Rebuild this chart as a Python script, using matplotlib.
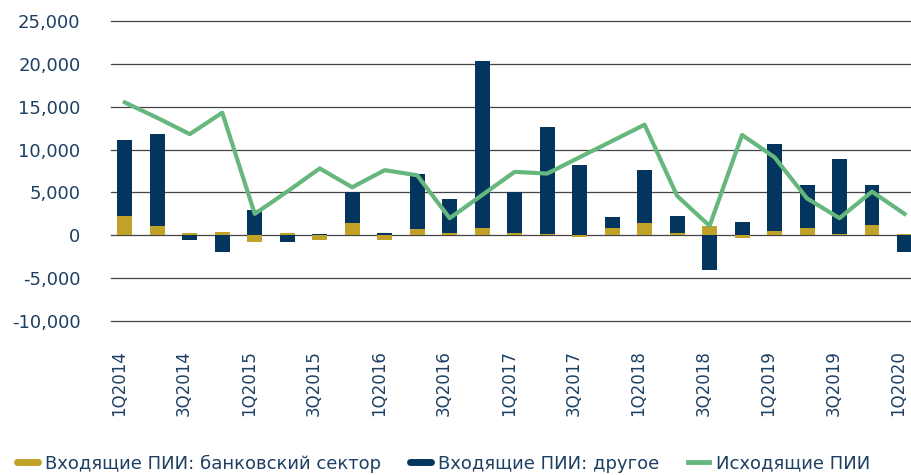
import matplotlib
matplotlib.use('Agg')
import matplotlib.pyplot as plt
import matplotlib.transforms as mtransforms
from matplotlib.lines import Line2D
from matplotlib.ticker import FuncFormatter
import numpy as np

plt.rcParams['font.family'] = ['DejaVu Sans']

# кварталы 1Q2014 - 1Q2020
quarters = ['1Q2014', '2Q2014', '3Q2014', '4Q2014',
            '1Q2015', '2Q2015', '3Q2015', '4Q2015',
            '1Q2016', '2Q2016', '3Q2016', '4Q2016',
            '1Q2017', '2Q2017', '3Q2017', '4Q2017',
            '1Q2018', '2Q2018', '3Q2018', '4Q2018',
            '1Q2019', '2Q2019', '3Q2019', '4Q2019',
            '1Q2020']
# Входящие ПИИ: банковский сектор
bank = [2200, 1100, 300, 400, -800, 300, -500, 1400, -500, 700,
        300, 900, 300, 200, -250, 800, 1400, 300, 1100, -300,
        450, 800, 200, 1250, 200]
# Входящие ПИИ: другое
other = [8900, 10700, -500, -1900, 2900, -800, 200, 3700, 300, 6500,
         3900, 19400, 4800, 12400, 8200, 1300, 6200, 1900, -4100, 1500,
         10250, 5100, 8700, 4650, -1900]
# Исходящие ПИИ
outward = [15500, 13700, 11800, 14300, 2500, 5100, 7800, 5600, 7600, 7000,
           2000, 4700, 7400, 7200, 9100, 11000, 12900, 4600, 1100, 11700,
           9100, 4300, 2000, 5100, 2500]

gold = '#c0a229'
navy = '#03355e'
green = '#66b77d'
text_color = '#1d3f63'

x = np.arange(len(quarters))
bank = np.array(bank)
other = np.array(other)
# синие столбцы ставим на золотые, только если знак совпадает
other_bottom = np.where(np.sign(bank) == np.sign(other), bank, 0)

fig = plt.figure(figsize=(9.11, 4.75), dpi=100)
ax = fig.add_axes([0.122, 0.324, 0.878, 0.632])

ax.bar(x, bank, width=0.46, color=gold, zorder=2)
ax.bar(x, other, width=0.46, bottom=other_bottom, color=navy, zorder=2)
ax.plot(x, outward, color=green, linewidth=3, zorder=3)

ax.set_ylim(-10000, 25000)
ax.set_xlim(-0.42, 24.2)
ax.set_yticks(range(-10000, 25001, 5000))
ax.yaxis.set_major_formatter(FuncFormatter(lambda v, p: f'{v:,.0f}'))
ax.set_xticks(x[::2])
ax.set_xticklabels(quarters[::2], rotation=90)
ax.grid(axis='y', color='#444444', linewidth=0.9, zorder=0)
ax.set_axisbelow(True)
for gl in ax.get_ygridlines():
    gl.set_clip_on(False)
for s in ax.spines.values():
    s.set_visible(False)
ax.tick_params(axis='y', length=0, pad=22, labelsize=13, labelcolor=text_color)
ax.tick_params(axis='x', length=0, pad=21, labelsize=12, labelcolor=text_color)

# подписи по оси X чуть левее столбцов
shift = mtransforms.ScaledTranslation(-6 / 100, 0, fig.dpi_scale_trans)
for lbl in ax.get_xticklabels():
    lbl.set_transform(lbl.get_transform() + shift)

handles = [
    Line2D([0], [0], color=gold, linewidth=5, solid_capstyle='round'),
    Line2D([0], [0], color=navy, linewidth=5, solid_capstyle='round'),
    Line2D([0], [0], color=green, linewidth=3.5),
]
labels = ['Входящие ПИИ: банковский сектор', 'Входящие ПИИ: другое', 'Исходящие ПИИ']
fig.legend(handles, labels, loc='center', bbox_to_anchor=(0.487, 0.024), ncol=3,
           frameon=False, fontsize=13, handlelength=1.15, handletextpad=0.4,
           columnspacing=1.6, labelcolor=text_color, borderpad=0.2)

fig.savefig('out.png', dpi=100)
